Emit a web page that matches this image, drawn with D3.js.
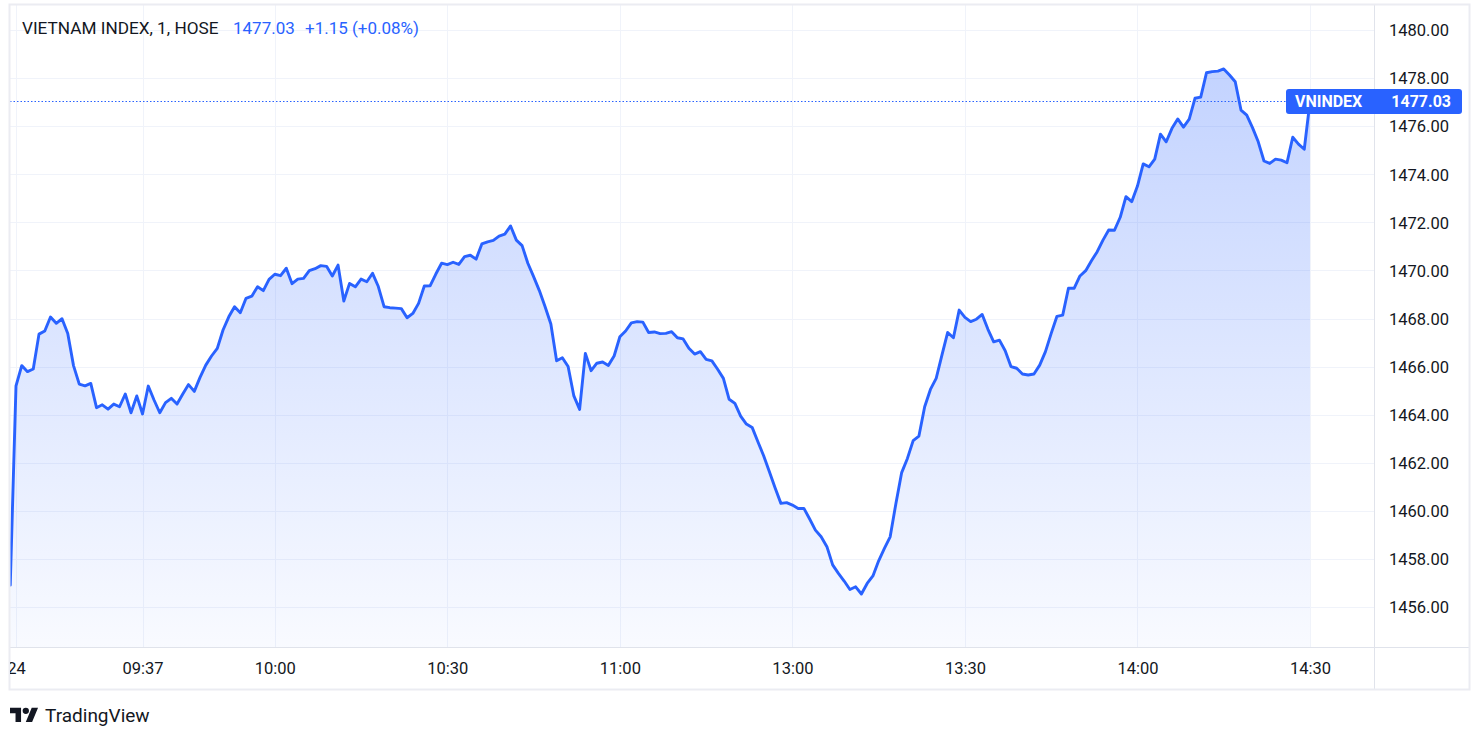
<!DOCTYPE html>
<html><head><meta charset="utf-8">
<script src="https://cdn.jsdelivr.net/npm/d3@7"></script>
<style>
body{margin:0;background:#fff}
svg{display:block}
text{font-family:Roboto,"Noto Sans",sans-serif}
</style>
</head><body>
<svg id="c" width="1484" height="742"></svg>
<script>
// ---------- data ----------
const symbolTitle = "VIETNAM INDEX, 1, HOSE";
const symbolShort = "VNINDEX";
const lastPrice = 1477.03;
const changeText = "+1.15 (+0.08%)";
const sessions = [["09:14", "11:29"], ["13:00", "14:30"]];
const closes = [
  1456.91,
  1465.20,1466.04,1465.79,1465.90,1467.35,1467.48,1468.06,1467.80,1467.99,1467.38,
  1466.04,1465.27,1465.20,1465.30,1464.29,1464.41,1464.23,1464.44,1464.33,1464.86,
  1464.08,1464.78,1464.03,1465.19,1464.61,1464.08,1464.50,1464.68,1464.44,1464.86,
  1465.25,1464.97,1465.55,1466.06,1466.44,1466.76,1467.52,1468.07,1468.49,1468.24,
  1468.84,1468.93,1469.32,1469.16,1469.63,1469.84,1469.78,1470.09,1469.45,1469.64,
  1469.67,1469.99,1470.07,1470.20,1470.17,1469.77,1470.22,1468.73,1469.46,1469.32,
  1469.64,1469.53,1469.88,1469.33,1468.49,1468.45,1468.43,1468.41,1468.03,1468.21,
  1468.63,1469.35,1469.36,1469.85,1470.30,1470.24,1470.34,1470.25,1470.57,1470.63,
  1470.47,1471.10,1471.19,1471.25,1471.43,1471.51,1471.85,1471.26,1471.03,1470.30,
  1469.74,1469.16,1468.49,1467.77,1466.24,1466.37,1466.00,1464.78,1464.22,1466.55,
  1465.83,1466.14,1466.19,1466.05,1466.44,1467.24,1467.48,1467.82,1467.87,1467.85,
  1467.42,1467.44,1467.37,1467.38,1467.45,1467.20,1467.15,1466.76,1466.52,1466.62,
  1466.30,1466.24,1465.89,1465.51,1464.64,1464.47,1463.94,1463.61,1463.47,1462.87,
  1462.29,1461.63,1460.95,1460.31,1460.34,
  1460.24,1460.10,1460.10,1459.66,1459.20,
  1458.92,1458.51,1457.75,1457.40,1457.08,1456.73,1456.84,1456.54,1456.98,1457.29,
  1457.92,1458.44,1458.92,1460.31,1461.59,1462.18,1462.92,1463.11,1464.33,1465.05,
  1465.51,1466.48,1467.42,1467.20,1468.35,1468.05,1467.87,1467.97,1468.17,1467.55,
  1467.03,1467.10,1466.66,1466.00,1465.93,1465.69,1465.65,1465.69,1466.06,1466.62,
  1467.38,1468.09,1468.14,1469.26,1469.26,1469.77,1469.99,1470.40,1470.78,1471.26,
  1471.68,1471.67,1472.21,1473.07,1472.86,1473.51,1474.43,1474.31,1474.63,1475.67,
  1475.35,1475.91,1476.30,1475.96,1476.29,1477.16,1477.21,1478.22,1478.27,1478.29,
  1478.38,1478.13,1477.85,1476.67,1476.46,1475.94,1475.35,1474.55,1474.45,1474.63,
  1474.59,1474.48,1475.54,1475.25,1475.04,1477.03
];
const priceTicks = [1456,1458,1460,1462,1464,1466,1468,1470,1472,1474,1476,1478,1480];
const timeTickTimes  = ["09:15","09:37","10:00","10:30","11:00","13:00","13:30","14:00","14:30"];
const timeTickLabels = ["24","09:37","10:00","10:30","11:00","13:00","13:30","14:00","14:30"];

// ---------- build minute bars from sessions ----------
function toMin(s){const [h,m]=s.split(":").map(Number);return h*60+m;}
function fmt(m){return String(Math.floor(m/60)).padStart(2,"0")+":"+String(m%60).padStart(2,"0");}
const times = [];
sessions.forEach(([a,b])=>{for(let m=toMin(a);m<=toMin(b);m++) times.push(fmt(m));});
const bars = times.map((t,i)=>({t, i, v: closes[i]}));

// ---------- layout ----------
const L = 10, R = 1374, T = 5, B = 647, OUTR = 1469, OUTB = 689;
const svg = d3.select("#c");
const ink = "#131722", blue = "#2962ff", grid = "#f0f3fa", sep = "#e0e3eb";
const FF = "Roboto, 'Noto Sans', sans-serif";

const x = d3.scaleLinear().domain([times.indexOf("09:15"), times.indexOf("14:30")]).range([16, 1310]);
const y = d3.scaleLinear().domain([1456, 1480]).range([607, 30]);

const defs = svg.append("defs");
defs.append("clipPath").attr("id","pane").append("rect")
  .attr("x",L).attr("y",T).attr("width",R-L).attr("height",B-T);
defs.append("clipPath").attr("id","taxis").append("rect")
  .attr("x",L).attr("y",B).attr("width",R-L).attr("height",OUTB-B);
const g = defs.append("linearGradient").attr("id","fillg")
  .attr("gradientUnits","userSpaceOnUse").attr("x1",0).attr("x2",0)
  .attr("y1", y(d3.max(closes))).attr("y2", B);
g.append("stop").attr("offset",0).attr("stop-color",blue).attr("stop-opacity",0.28);
g.append("stop").attr("offset",1).attr("stop-color",blue).attr("stop-opacity",0.03);

// grid
const gridG = svg.append("g");
gridG.selectAll("line.h").data(priceTicks).join("line")
  .attr("x1",L).attr("x2",R).attr("y1",d=>Math.round(y(d))+0.5).attr("y2",d=>Math.round(y(d))+0.5)
  .attr("stroke",grid).attr("stroke-width",1);
gridG.selectAll("line.v").data(timeTickTimes).join("line")
  .attr("x1",d=>Math.round(x(times.indexOf(d)))+0.5).attr("x2",d=>Math.round(x(times.indexOf(d)))+0.5)
  .attr("y1",T).attr("y2",B).attr("stroke",grid).attr("stroke-width",1);

// series
const pane = svg.append("g").attr("clip-path","url(#pane)");
pane.append("path").datum(bars)
  .attr("d", d3.area().x(d=>x(d.i)).y0(B).y1(d=>y(d.v)))
  .attr("fill","url(#fillg)");
pane.append("path").datum(bars)
  .attr("d", d3.line().x(d=>x(d.i)).y(d=>y(d.v)))
  .attr("fill","none").attr("stroke",blue).attr("stroke-width",2.9)
  .attr("stroke-linejoin","round").attr("stroke-linecap","round");

// last price dotted line
svg.append("line").attr("x1",L).attr("x2",1286)
  .attr("y1",Math.round(y(lastPrice))+0.5).attr("y2",Math.round(y(lastPrice))+0.5)
  .attr("stroke",blue).attr("stroke-width",1).attr("stroke-dasharray","1.5,2");

// separators & border
svg.append("line").attr("x1",R+0.5).attr("x2",R+0.5).attr("y1",T).attr("y2",OUTB).attr("stroke",sep);
svg.append("line").attr("x1",L).attr("x2",OUTR).attr("y1",B+0.5).attr("y2",B+0.5).attr("stroke",sep);
svg.append("rect").attr("x",L-0.5).attr("y",T-0.5).attr("width",OUTR-L+1).attr("height",OUTB-T+1)
  .attr("fill","none").attr("stroke","#ebecf2").attr("stroke-width",2);

// price axis
const yAxis = d3.axisRight(y).tickValues(priceTicks).tickFormat(d3.format(".2f")).tickSize(0).tickPadding(0);
const ya = svg.append("g").attr("transform",`translate(${R+15},0)`).call(yAxis);
ya.select(".domain").remove();
ya.selectAll("text").attr("fill",ink).attr("font-size",16.5).attr("dy","0.35em").style("font-family",FF);

// time axis (clip on an untransformed wrapper)
const xAxis = d3.axisBottom(x).tickValues(timeTickTimes.map(t=>times.indexOf(t)))
  .tickFormat((d,i)=>timeTickLabels[i]).tickSize(0).tickPadding(0);
const xaWrap = svg.append("g").attr("clip-path","url(#taxis)");
const xa = xaWrap.append("g").attr("transform",`translate(0,${B})`).call(xAxis);
xa.select(".domain").remove();
xa.selectAll("text").attr("fill",ink).attr("font-size",16.5).attr("dy",0).attr("y",27).style("font-family",FF);

// price label
const py = y(lastPrice);
svg.append("rect").attr("x",1286).attr("y",py-12.5).attr("width",176).attr("height",25).attr("rx",3).attr("fill",blue);
svg.append("text").attr("x",1295).attr("y",py).attr("dy","0.36em").attr("fill","#fff")
  .attr("font-size",16).attr("font-weight",700).text(symbolShort);
svg.append("text").attr("x",1451).attr("y",py).attr("dy","0.36em").attr("fill","#fff")
  .attr("text-anchor","end").attr("font-size",16).attr("font-weight",700).text(d3.format(".2f")(lastPrice));

// legend title
svg.append("text").attr("x",22).attr("y",34).attr("fill",ink).attr("font-size",17.2).text(symbolTitle);
svg.append("text").attr("x",233).attr("y",34).attr("fill",blue).attr("font-size",17).text(d3.format(".2f")(lastPrice));
svg.append("text").attr("x",305).attr("y",34).attr("fill",blue).attr("font-size",17).text(changeText);

// TradingView logo
svg.append("path").attr("transform","translate(10,704.5) scale(0.79)")
  .attr("d","M14 22H7V11H0V4h14v18zM28 22h-8l7.5-18h8L28 22z").attr("fill",ink);
svg.append("circle").attr("transform","translate(10,704.5) scale(0.79)")
  .attr("cx",20).attr("cy",8).attr("r",4).attr("fill",ink);
svg.append("text").attr("x",45).attr("y",722).attr("fill",ink).attr("font-size",19).text("TradingView");
</script>
</body></html>
